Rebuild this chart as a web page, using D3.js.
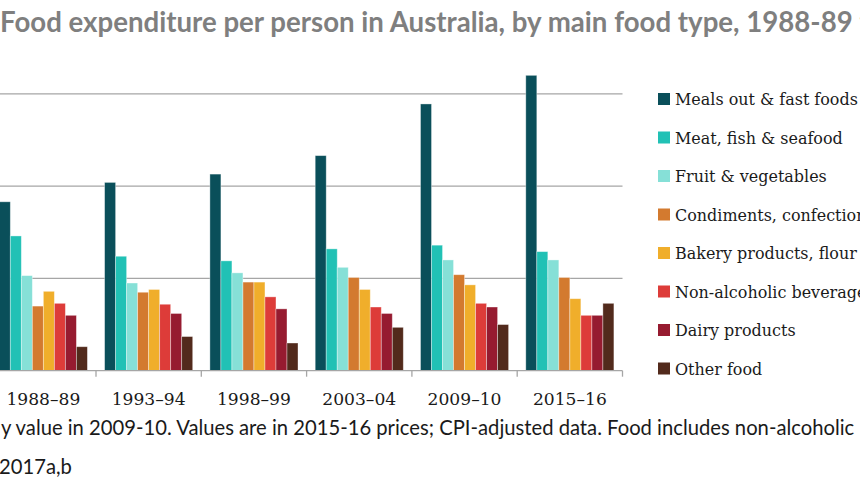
<!DOCTYPE html>
<html>
<head>
<meta charset="utf-8">
<script src="https://cdn.jsdelivr.net/npm/d3@7"></script>
<style>
  html, body { margin: 0; padding: 0; background: #fff; }
  svg { display: block; }
</style>
</head>
<body>
<div id="chart"></div>
<script>
const years = ["1988–89", "1993–94", "1998–99", "2003–04", "2009–10", "2015–16"];
const foodTypes = [
  "Meals out & fast foods",
  "Meat, fish & seafood",
  "Fruit & vegetables",
  "Condiments, confectionery & other",
  "Bakery products, flour & cereals",
  "Non-alcoholic beverages",
  "Dairy products",
  "Other food"
];
const colours = ["#0a4f5a", "#21c1b5", "#86e0d7", "#d37a2f", "#f0ae2b", "#dd3c39", "#961b30", "#522a1c"];

// weekly $ per person (one array per food type, by year)
const mealsOut   = [18.3, 20.4, 21.3, 23.3, 28.9, 32.0];
const meat       = [14.6, 12.4, 11.9, 13.2, 13.6, 12.9];
const fruitVeg   = [10.3, 9.5, 10.6, 11.2, 12.0, 12.0];
const condiments = [7.0, 8.5, 9.6, 10.1, 10.4, 10.1];
const bakery     = [8.6, 8.8, 9.6, 8.8, 9.3, 7.8];
const beverages  = [7.3, 7.2, 8.0, 6.9, 7.3, 6.0];
const dairy      = [6.0, 6.2, 6.7, 6.2, 6.9, 6.0];
const otherFood  = [2.6, 3.7, 3.0, 4.7, 5.0, 7.3];
const series = [mealsOut, meat, fruitVeg, condiments, bakery, beverages, dairy, otherFood];
const gridTicks = [10, 20, 30];

const title = "Food expenditure per person in Australia, by main food type, 1988-89 to 2015-16";
const note1 = "y value in 2009-10. Values are in 2015-16 prices; CPI-adjusted data. Food includes non-alcoholic beverages.";
const note2 = "2017a,b";

const width = 860, height = 500;
const serif = "'DejaVu Serif', serif";
const sans = "Lato, 'Open Sans', sans-serif";

const svg = d3.select("#chart").append("svg")
  .attr("width", width).attr("height", height);

// scale a text's font size so a given part of it spans the target width
function fitText(sel, sample, target) {
  const probe = svg.append("text")
    .attr("font-family", sel.attr("font-family"))
    .attr("font-weight", sel.attr("font-weight"))
    .attr("font-size", 20)
    .text(sample);
  const w = probe.node().getComputedTextLength();
  probe.remove();
  const fs = 20 * target / w;
  sel.attr("font-size", fs);
  return fs;
}

const x0 = d3.scaleBand().domain(years).range([-9.3, 622.5]);
const x1 = d3.scaleBand().domain(d3.range(foodTypes.length))
  .range([8.6, x0.bandwidth() - 8.6]);
const y = d3.scaleLinear().domain([0, 35]).range([370.7, 47.65]);

// title
const t = svg.append("text")
  .attr("x", 0).attr("y", 32)
  .attr("font-family", sans).attr("font-weight", "bold")
  .attr("fill", "#7f7f7f")
  .text(title);
fitText(t, "Food expenditure per person in Australia, by main food type, 1988-89", 853);

// gridlines
svg.append("g").selectAll("line").data(gridTicks).join("line")
  .attr("x1", x0.range()[0]).attr("x2", x0.range()[1])
  .attr("y1", d => y(d)).attr("y2", d => y(d))
  .attr("stroke", "#a6a6a6").attr("stroke-width", 1.3);

// bars
const groups = svg.append("g").selectAll("g").data(years).join("g")
  .attr("transform", d => `translate(${x0(d)},0)`);

groups.selectAll("rect")
  .data((yr, i) => series.map((s, k) => ({ k, v: s[i] })))
  .join("rect")
  .attr("x", d => x1(d.k))
  .attr("width", x1.bandwidth())
  .attr("y", d => y(d.v))
  .attr("height", d => y(0) - y(d.v))
  .attr("fill", d => colours[d.k])
  .attr("stroke", "#ffffff").attr("stroke-opacity", 0.45).attr("stroke-width", 0.8);

// x axis
const xAxis = svg.append("g").attr("transform", `translate(0,${y(0)})`);
xAxis.append("line")
  .attr("x1", x0.range()[0]).attr("x2", x0.range()[1])
  .attr("stroke", "#a6a6a6").attr("stroke-width", 1.3);
xAxis.selectAll("line.tick").data(years).join("line")
  .attr("class", "tick")
  .attr("x1", d => x0(d) + x0.bandwidth()).attr("x2", d => x0(d) + x0.bandwidth())
  .attr("y1", 0).attr("y2", 6)
  .attr("stroke", "#a6a6a6").attr("stroke-width", 1.3);
const xl = xAxis.selectAll("text").data(years).join("text")
  .attr("x", d => x0(d) + x0.bandwidth() / 2)
  .attr("y", 34)
  .attr("text-anchor", "middle")
  .attr("font-family", serif)
  .attr("fill", "#1a1a1a")
  .text(d => d);
fitText(xl, "1988–89", 74);

// legend
const legend = svg.append("g").attr("transform", "translate(658,0)");
const rowY = d3.scalePoint().domain(d3.range(foodTypes.length)).range([105, 374.5]);
const items = legend.selectAll("g").data(foodTypes).join("g")
  .attr("transform", (d, i) => `translate(0,${rowY(i)})`);
items.append("rect")
  .attr("x", 0).attr("y", -12).attr("width", 12).attr("height", 12)
  .attr("fill", (d, i) => colours[i]);
const lt = items.append("text")
  .attr("x", 17).attr("y", 0)
  .attr("font-family", serif)
  .attr("fill", "#1a1a1a")
  .text(d => d);
fitText(lt, "Meals out & fast foods", 183);

// notes
const n1 = svg.append("text")
  .attr("x", 1).attr("y", 435)
  .attr("font-family", sans).attr("fill", "#1a1a1a")
  .text(note1);
const fs = fitText(n1, "y value in 2009-10. Values are in 2015-16 prices", 428);
svg.append("text")
  .attr("x", -1).attr("y", 474)
  .attr("font-family", sans).attr("font-size", fs).attr("fill", "#1a1a1a")
  .text(note2);
</script>
</body>
</html>
